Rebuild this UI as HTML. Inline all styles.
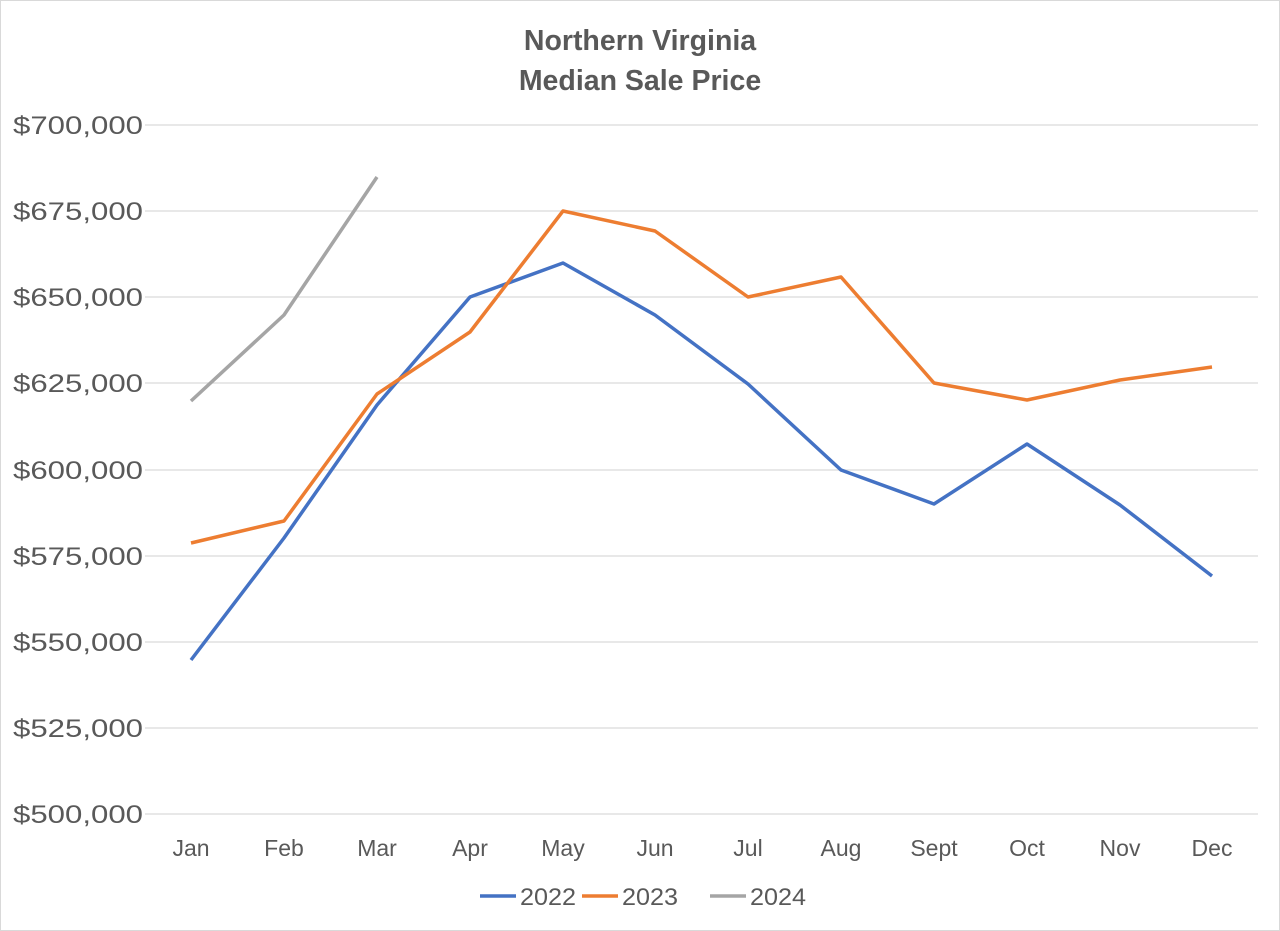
<!DOCTYPE html>
<html><head><meta charset="utf-8"><style>
body{margin:0;background:#fff}
svg{display:block}
text{font-family:"Liberation Sans",sans-serif;fill:#595959}
</style></head><body>
<svg width="1280" height="931" viewBox="0 0 1280 931">
<rect x="0.5" y="0.5" width="1279" height="930" fill="#fff" stroke="#d9d9d9"/>
<text x="640" y="50" text-anchor="middle" font-size="28.5" font-weight="bold">Northern Virginia</text>
<text x="640" y="90" text-anchor="middle" font-size="28.5" font-weight="bold">Median Sale Price</text>
<g stroke="#d9d9d9" stroke-width="1.3">
<line x1="145" x2="1258" y1="125" y2="125"/><line x1="145" x2="1258" y1="211" y2="211"/>
<line x1="145" x2="1258" y1="297" y2="297"/><line x1="145" x2="1258" y1="383" y2="383"/>
<line x1="145" x2="1258" y1="470" y2="470"/><line x1="145" x2="1258" y1="556" y2="556"/>
<line x1="145" x2="1258" y1="642" y2="642"/><line x1="145" x2="1258" y1="728" y2="728"/>
<line x1="145" x2="1258" y1="814" y2="814"/>
</g>
<g font-size="25">
<text x="13" y="134" textLength="130" lengthAdjust="spacingAndGlyphs">$700,000</text>
<text x="13" y="220" textLength="130" lengthAdjust="spacingAndGlyphs">$675,000</text>
<text x="13" y="306" textLength="130" lengthAdjust="spacingAndGlyphs">$650,000</text>
<text x="13" y="392" textLength="130" lengthAdjust="spacingAndGlyphs">$625,000</text>
<text x="13" y="479" textLength="130" lengthAdjust="spacingAndGlyphs">$600,000</text>
<text x="13" y="565" textLength="130" lengthAdjust="spacingAndGlyphs">$575,000</text>
<text x="13" y="651" textLength="130" lengthAdjust="spacingAndGlyphs">$550,000</text>
<text x="13" y="737" textLength="130" lengthAdjust="spacingAndGlyphs">$525,000</text>
<text x="13" y="823" textLength="130" lengthAdjust="spacingAndGlyphs">$500,000</text>
</g>
<g font-size="23" text-anchor="middle">
<text x="191" y="856">Jan</text><text x="284" y="856">Feb</text><text x="377" y="856">Mar</text>
<text x="470" y="856">Apr</text><text x="563" y="856">May</text><text x="655" y="856">Jun</text>
<text x="748" y="856">Jul</text><text x="841" y="856">Aug</text><text x="934" y="856">Sept</text>
<text x="1027" y="856">Oct</text><text x="1120" y="856">Nov</text><text x="1212" y="856">Dec</text>
</g>
<g fill="none" stroke-width="3.5" stroke-linejoin="round">
<polyline stroke="#4472c4" points="191,660 284,538 377,405 470,297 563,263 655,315 748,384 841,470 934,504 1027,444 1120,505 1212,576"/>
<polyline stroke="#ed7d31" points="191,543 284,521 377,394 470,332 563,211 655,231 748,297 841,277 934,383 1027,400 1120,380 1212,367"/>
<polyline stroke="#a5a5a5" points="191,401 284,315 377,177"/>
</g>
<g stroke-width="3.5">
<line x1="480" x2="516" y1="896" y2="896" stroke="#4472c4"/>
<line x1="582" x2="618" y1="896" y2="896" stroke="#ed7d31"/>
<line x1="710" x2="746" y1="896" y2="896" stroke="#a5a5a5"/>
</g>
<g font-size="24">
<text x="520" y="905" textLength="56" lengthAdjust="spacingAndGlyphs">2022</text>
<text x="622" y="905" textLength="56" lengthAdjust="spacingAndGlyphs">2023</text>
<text x="750" y="905" textLength="56" lengthAdjust="spacingAndGlyphs">2024</text>
</g>
</svg>
</body></html>
